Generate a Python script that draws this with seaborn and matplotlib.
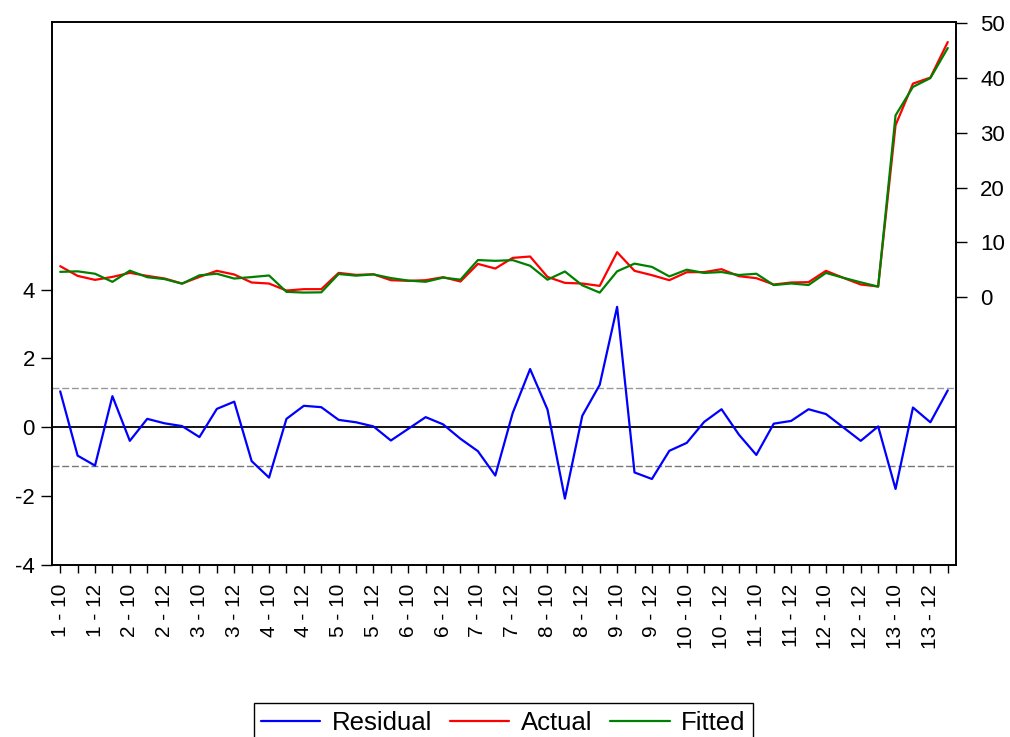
import numpy as np
import pandas as pd
import matplotlib
matplotlib.use("Agg")
import matplotlib.pyplot as plt
import seaborn as sns

# --- datos (panel 13 secciones x 4 anos) ---
sections = list(range(1, 14))
years = [10, 11, 12, 13]
obs_labels = [f"{s} - {y}" for s in sections for y in years]

residual = [1.04, -0.83, -1.12, 0.90, -0.40, 0.24, 0.11, 0.03, -0.29, 0.53,
            0.74, -0.99, -1.47, 0.24, 0.62, 0.58, 0.21, 0.14, 0.02, -0.39,
            -0.05, 0.29, 0.08, -0.34, -0.70, -1.41, 0.41, 1.69, 0.51, -2.08,
            0.33, 1.23, 3.50, -1.32, -1.51, -0.69, -0.46, 0.15, 0.52, -0.22,
            -0.81, 0.10, 0.18, 0.52, 0.38, -0.01, -0.40, 0.02, -1.80, 0.57,
            0.14, 1.07]

actual = [5.63, 3.86, 3.13, 3.67, 4.41, 3.86, 3.38, 2.46, 3.67, 4.78,
          4.11, 2.65, 2.46, 1.18, 1.43, 1.43, 4.41, 4.04, 4.15, 3.07,
          2.95, 3.07, 3.62, 2.83, 6.05, 5.20, 7.15, 7.40, 3.67, 2.58,
          2.46, 2.03, 8.19, 4.78, 3.99, 3.07, 4.53, 4.55, 5.08, 3.80,
          3.44, 2.28, 2.65, 2.71, 4.78, 3.50, 2.28, 1.92, 31.4, 39.0,
          40.1, 46.6]

fitted = [4.59, 4.69, 4.25, 2.77, 4.81, 3.62, 3.27, 2.43, 3.96, 4.25,
          3.37, 3.64, 3.93, 0.94, 0.81, 0.85, 4.20, 3.90, 4.13, 3.46,
          3.00, 2.78, 3.54, 3.17, 6.75, 6.61, 6.74, 5.71, 3.16, 4.66,
          2.13, 0.80, 4.69, 6.10, 5.50, 3.76, 4.99, 4.40, 4.56, 4.02,
          4.25, 2.18, 2.47, 2.19, 4.40, 3.51, 2.68, 1.90, 33.2, 38.4,
          40.0, 45.5]

se_band = 1.124  # +/- 1 S.E. (lineas discontinuas)

resid_ticks = [-4, -2, 0, 2, 4]
level_ticks = [0, 10, 20, 30, 40, 50]

df = pd.DataFrame({
    "obs": np.arange(len(obs_labels)),
    "Residual": residual,
    "Actual": actual,
    "Fitted": fitted,
})

sns.set_style("white")
plt.rcParams["font.family"] = ["Liberation Sans", "DejaVu Sans"]

fig = plt.figure(figsize=(10.1, 7.37), dpi=100)
ax = fig.add_axes([0.051, 0.234, 0.896, 0.7357])
ax2 = ax.twinx()

# residuos en el eje izquierdo
ax.axhline(0, color="black", lw=1.3, zorder=1)
ax.axhline(se_band, color="#999999", lw=1.0, ls=(0, (5, 2)), zorder=1)
ax.axhline(-se_band, color="#777777", lw=1.0, ls=(0, (5, 2)), zorder=1)
sns.lineplot(data=df, x="obs", y="Residual", ax=ax, color="#0000ff",
             lw=1.6, label="Residual")

# actual / ajustado en el eje derecho
sns.lineplot(data=df, x="obs", y="Actual", ax=ax2, color="#ff0000",
             lw=1.6, label="Actual")
sns.lineplot(data=df, x="obs", y="Fitted", ax=ax2, color="#008000",
             lw=1.6, label="Fitted")

for a in (ax, ax2):
    if a.get_legend() is not None:
        a.get_legend().remove()
    a.set_xlabel("")
    a.set_ylabel("")
    for sp in a.spines.values():
        sp.set_color("black")
        sp.set_linewidth(1.2)

ax.set_xlim(-0.5, len(obs_labels) - 0.5)
ax.set_ylim(-4, 11.78)
ax2.set_ylim(-48.9, 50.2)

ax.set_yticks(resid_ticks)
ax.set_yticklabels([str(t) for t in resid_ticks])
ax2.set_yticks(level_ticks)
ax2.set_yticklabels([str(t) for t in level_ticks])

ax.set_xticks(df["obs"])
ax.set_xticklabels([lab if i % 2 == 0 else "" for i, lab in enumerate(obs_labels)],
                   rotation=90)

ax.tick_params(axis="x", bottom=True, direction="out", length=6, width=1,
               labelsize=15, pad=8, colors="black")
ax.tick_params(axis="y", left=True, direction="out", length=8, width=1,
               labelsize=16, pad=4, colors="black")
ax2.tick_params(axis="y", right=True, direction="out", length=8, width=1,
                labelsize=16, pad=9, colors="black")

h1, l1 = ax.get_legend_handles_labels()
h2, l2 = ax2.get_legend_handles_labels()
leg = fig.legend(h1 + h2, l1 + l2, loc="lower center",
                 bbox_to_anchor=(0.4985, -0.025), ncol=3, fontsize=18.5,
                 frameon=True, fancybox=False, edgecolor="black",
                 framealpha=1, handlelength=2.3, handletextpad=0.45,
                 columnspacing=0.7, borderpad=0.3)
leg.get_frame().set_linewidth(1.0)
for t in leg.get_texts():
    t.set_color("black")

fig.savefig("out.png", dpi=100)
plt.close(fig)
